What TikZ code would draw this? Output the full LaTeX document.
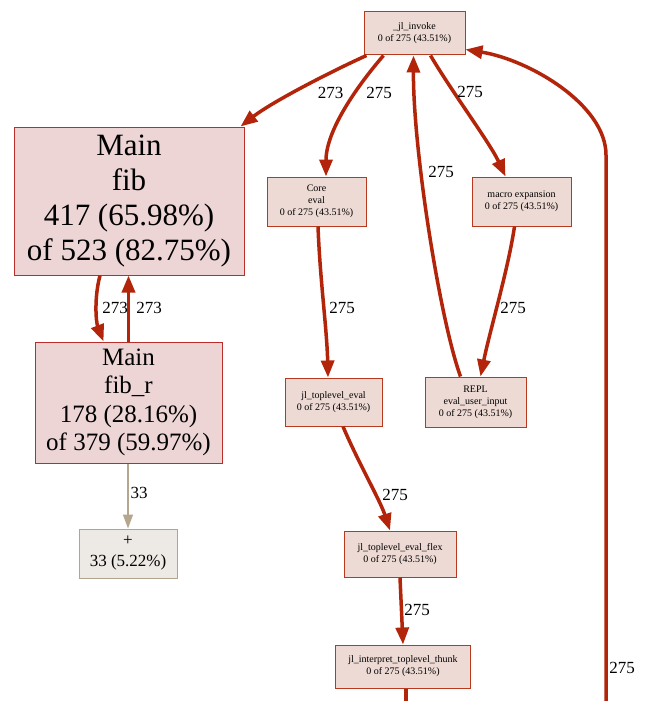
\documentclass[tikz,border=0pt]{standalone}
\usepackage{fontspec}
\setmainfont{Liberation Serif}
\usetikzlibrary{arrows.meta,calc}
\definecolor{nodefill}{HTML}{EDDAD4}
\definecolor{nodeline}{HTML}{B83A1E}
\definecolor{hotfill}{HTML}{EDD5D5}
\definecolor{hotline}{HTML}{B82E2A}
\definecolor{tanfill}{HTML}{EDE9E4}
\definecolor{tanline}{HTML}{B2A58F}
\definecolor{edgered}{HTML}{B3250A}
\definecolor{edgetan}{HTML}{B5A78E}
\begin{document}
\begin{tikzpicture}[x=1pt,y=-1pt,
  box/.style={draw=nodeline, fill=nodefill, line width=1pt, inner sep=0pt, align=center,
    font=\fontsize{10}{12}\selectfont},
  hotbox/.style={draw=hotline, fill=hotfill, line width=1pt, inner sep=0pt, align=center},
  tanbox/.style={draw=tanline, fill=tanfill, line width=1pt, inner sep=0pt, align=center,
    font=\fontsize{17}{21}\selectfont},
  edge/.style={draw=edgered, line width=3.5pt, -{Triangle[length=17pt,width=13pt]}},
  plainedge/.style={draw=edgered, line width=3.5pt},
  tanedge/.style={draw=edgetan, line width=1.5pt, -{Triangle[length=14pt,width=10pt]}},
  elabel/.style={inner sep=0pt, font=\fontsize{17}{20}\selectfont}
]
\useasboundingbox[fill=white] (0,0) rectangle (645,701);

% nodes
\node[box, minimum width=101pt, minimum height=43pt] (ji) at (414.5,33.5) {\_jl\_invoke\\0 of 275 (43.51\%)};
\node[hotbox, minimum width=230pt, minimum height=148pt, font=\fontsize{31}{35}\selectfont] (mf) at (129,201) {Main\\fib\\417 (65.98\%)\\of 523 (82.75\%)};
\node[box, minimum width=99pt, minimum height=49pt] (ce) at (316.5,201.5) {Core\\eval\\0 of 275 (43.51\%)};
\node[box, minimum width=99pt, minimum height=49pt] (me) at (521.5,201.5) {macro expansion\\0 of 275 (43.51\%)};
\node[hotbox, minimum width=187pt, minimum height=121pt, font=\fontsize{25}{28.5}\selectfont] (fr) at (128.5,402.5) {Main\\fib\_r\\178 (28.16\%)\\of 379 (59.97\%)};
\node[box, minimum width=97pt, minimum height=48pt] (te) at (333.5,402) {jl\_toplevel\_eval\\0 of 275 (43.51\%)};
\node[box, minimum width=101pt, minimum height=50pt] (re) at (475.5,402) {REPL\\eval\_user\_input\\0 of 275 (43.51\%)};
\node[tanbox, minimum width=98pt, minimum height=49pt] (pl) at (128,553.5) {+\\33 (5.22\%)};
\node[box, minimum width=112pt, minimum height=46pt] (fx) at (400,554) {jl\_toplevel\_eval\_flex\\0 of 275 (43.51\%)};
\node[box, minimum width=135pt, minimum height=43pt] (th) at (403,666.5) {jl\_interpret\_toplevel\_thunk\\0 of 275 (43.51\%)};

\coordinate (offA) at (406,701);
\coordinate (offB) at (606,701);
\coordinate (bendB) at (606,155);

% edges
\draw[edge] ($(ji.south west)+(3,0)$) .. controls (330,72) and (272,102) .. ($(mf.north east)+(-4,0)$);
\draw[edge] ($(ji.south)+(-31,0)$) .. controls (358,85) and (326,130) .. ($(ce.north)+(9.5,0)$);
\draw[edge] ($(ji.south)+(16,0)$) .. controls (452,92) and (490,143) .. ($(me.north)+(-16,0)$);
\draw[edge] ($(re.north)+(-15,0)$) .. controls (440,320) and (413,150) .. ($(ji.south)+(-1,0)$);
\draw[edge] ($(me.south)+(-7,0)$) .. controls (508,270) and (490,330) .. ($(re.north)+(5,0)$);
\draw[edge] ($(ce.south)+(1.5,0)$) .. controls (320,280) and (327,330) .. ($(te.north)+(-5.5,0)$);
\draw[edge] ($(te.south)+(9.5,0)$) .. controls (358,462) and (380,500) .. ($(fx.north)+(-10,0)$);
\draw[edge] (fx.south) -- (th.north);
\draw[plainedge] ($(th.south)+(3,0)$) -- (offA);
\draw[edge] (offB) -- (bendB) .. controls (606,105) and (530,60) .. ($(ji.east)+(0,16)$);
\draw[edge] ($(mf.south)+(-29,0)$) .. controls (94,298) and (96,322) .. ($(fr.north)+(-25,0)$);
\draw[edge] (fr.north) -- (fr.north |- mf.south);
\draw[tanedge] ($(fr.south)+(-0.5,0)$) -- (pl.north);

% labels
\node[elabel] (l1) at (330.5,93) {273};
\node[elabel] (l2) at (379,93) {275};
\node[elabel] (l3) at (470,92) {275};
\node[elabel] (l4) at (441,172) {275};
\node[elabel] (l5) at (342,308) {275};
\node[elabel] (l6) at (513,308) {275};
\node[elabel] (l7) at (395,495) {275};
\node[elabel] (l8) at (417,610) {275};
\node[elabel] (l9) at (622,668) {275};
\node[elabel] (l10) at (115,308) {273};
\node[elabel] (l11) at (149,308) {273};
\node[elabel] (l12) at (139,493) {33};
\end{tikzpicture}
\end{document}
